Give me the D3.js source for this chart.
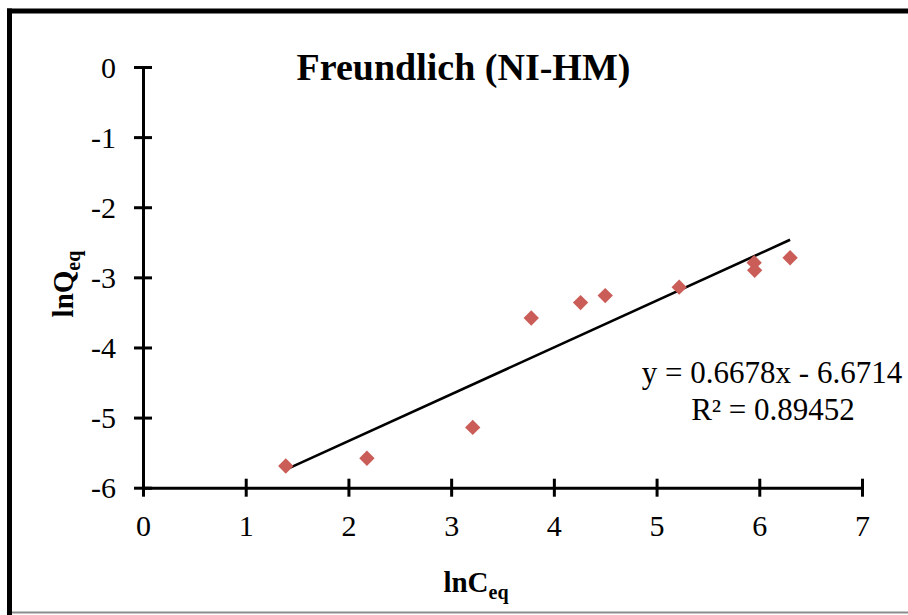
<!DOCTYPE html>
<html>
<head>
<meta charset="utf-8">
<script src="https://cdn.jsdelivr.net/npm/d3@7"></script>
<style>
  html, body { margin: 0; padding: 0; background: #fff; }
  svg { display: block; }
  text { font-family: "Liberation Serif", "Times New Roman", serif; fill: #000; }
</style>
</head>
<body>
<svg id="chart" width="908" height="615"></svg>
<script>
// Freundlich isotherm, linearised: ln Q_eq against ln C_eq
const lnCeq = [1.39, 2.18, 3.21, 3.78, 4.26, 4.50, 5.22, 5.95, 5.955, 6.30];
const lnQeq = [-5.69, -5.58, -5.14, -3.58, -3.36, -3.26, -3.14, -2.79, -2.90, -2.72];
const xTicks = [0, 1, 2, 3, 4, 5, 6, 7];
const yTicks = [0, -1, -2, -3, -4, -5, -6];
const slope = 0.6678;
const intercept = -6.6714;
const rSquared = 0.89452;

const svg = d3.select("#chart");

// outer frame
svg.append("line").attr("x1", 7).attr("x2", 908).attr("y1", 11).attr("y2", 11)
  .attr("stroke", "#000").attr("stroke-width", 5);
svg.append("line").attr("x1", 9.5).attr("x2", 9.5).attr("y1", 8.5).attr("y2", 615)
  .attr("stroke", "#000").attr("stroke-width", 5);
svg.append("line").attr("x1", 12).attr("x2", 908).attr("y1", 612.5).attr("y2", 612.5)
  .attr("stroke", "#8c8c8c").attr("stroke-width", 2);

const x = d3.scaleLinear().domain([0, 7]).range([143, 862]);
const y = d3.scaleLinear().domain([-6, 0]).range([487.7, 67]);

// x axis
const xAxis = svg.append("g").attr("transform", `translate(0,${y(-6)})`)
  .call(d3.axisBottom(x).tickValues(xTicks).tickSize(0).tickFormat(d3.format("d")));
xAxis.select(".domain").attr("stroke", "#000").attr("stroke-width", 3);
xAxis.selectAll(".tick line").attr("y1", -9).attr("y2", 9)
  .attr("stroke", "#000").attr("stroke-width", 3);
xAxis.selectAll(".tick text").attr("y", 48).attr("dy", 0)
  .style("font-size", "30px").attr("font-family", null);

// y axis
const yAxis = svg.append("g").attr("transform", `translate(${x(0)},0)`)
  .call(d3.axisLeft(y).tickValues(yTicks).tickSize(0).tickFormat(d3.format("d")));
yAxis.select(".domain").attr("stroke", "#000").attr("stroke-width", 3);
yAxis.selectAll(".tick line").attr("x1", -9).attr("x2", 9)
  .attr("stroke", "#000").attr("stroke-width", 3);
yAxis.selectAll(".tick text").attr("x", -27).attr("dy", "0.34em")
  .style("font-size", "30px").attr("font-family", null);
svg.selectAll(".tick text").text(d => d < 0 ? "-" + Math.abs(d) : d);

// linear trend line over the data range
const xExt = d3.extent(lnCeq);
svg.append("line")
  .attr("x1", x(xExt[0])).attr("y1", y(slope * xExt[0] + intercept))
  .attr("x2", x(xExt[1])).attr("y2", y(slope * xExt[1] + intercept))
  .attr("stroke", "#000").attr("stroke-width", 2.6);

// data markers (diamonds)
const diamond = d3.symbol().type(d3.symbolDiamond2).size(150);
svg.append("g").selectAll("path")
  .data(lnCeq.map((c, i) => [c, lnQeq[i]]))
  .join("path")
  .attr("d", diamond)
  .attr("transform", d => `translate(${x(d[0])},${y(d[1])})`)
  .attr("fill", "#CB5D58");

// title
svg.append("text").attr("x", 463.5).attr("y", 80)
  .attr("text-anchor", "middle").attr("font-weight", "bold")
  .style("font-size", "38px").text("Freundlich (NI-HM)");

// regression label
const eq = svg.append("text").attr("text-anchor", "middle").style("font-size", "31px");
eq.append("tspan").attr("x", 772).attr("y", 383)
  .text(`y = ${slope}x - ${Math.abs(intercept)}`);
eq.append("tspan").attr("x", 773).attr("y", 420)
  .text(`R² = ${rSquared}`);

// axis titles
const xt = svg.append("text").attr("x", 476).attr("y", 592)
  .attr("text-anchor", "middle").attr("font-weight", "bold").style("font-size", "29px");
xt.append("tspan").text("lnC");
xt.append("tspan").attr("dy", 7).style("font-size", "20px").text("eq");

const yt = svg.append("text")
  .attr("transform", "translate(73,284) rotate(-90)")
  .attr("text-anchor", "middle").attr("font-weight", "bold").style("font-size", "29px");
yt.append("tspan").text("lnQ");
yt.append("tspan").attr("dy", 7).style("font-size", "20px").text("eq");
</script>
</body>
</html>
